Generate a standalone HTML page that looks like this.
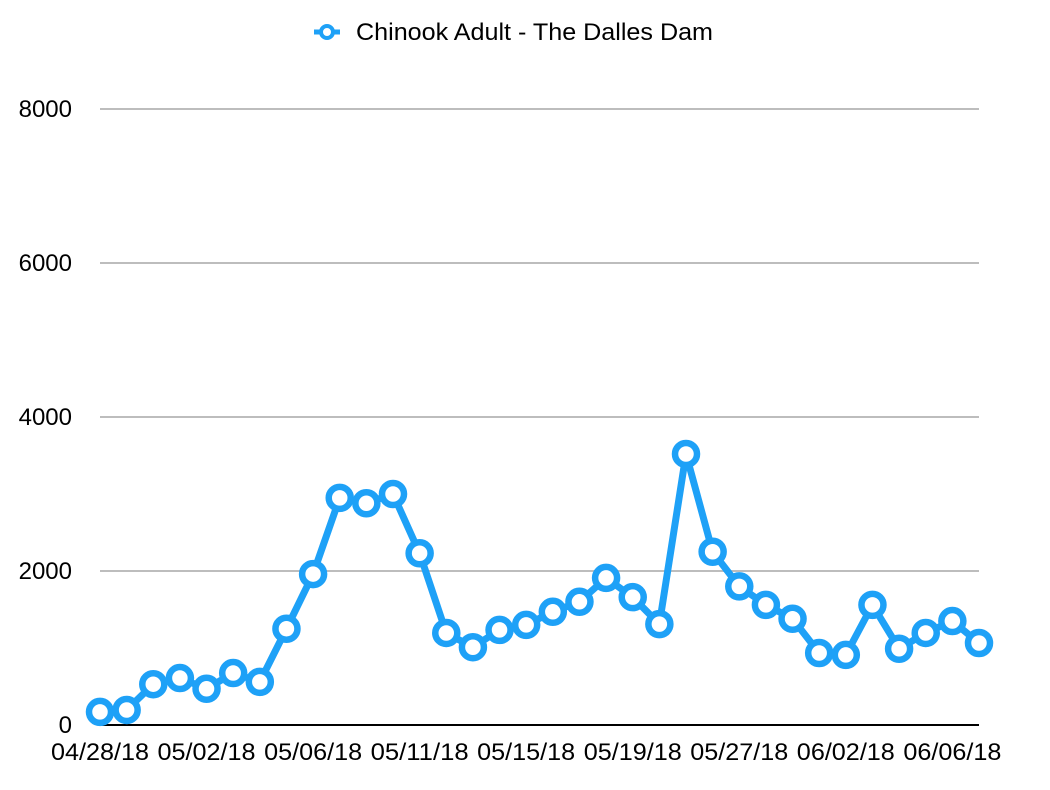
<!DOCTYPE html>
<html><head><meta charset="utf-8"><style>
html,body{margin:0;padding:0;background:#fff;}
svg{display:block;font-family:"Liberation Sans",sans-serif;}
</style></head><body>
<svg id="chart" width="1050" height="790" viewBox="0 0 1050 790">
<g id="legend">
  <line x1="314" y1="32" x2="340" y2="32" stroke="#1ea1f7" stroke-width="5"/>
  <circle cx="327" cy="32" r="6" fill="#fff" stroke="#1ea1f7" stroke-width="4"/>
  <text x="356" y="40" font-size="24" textLength="357" lengthAdjust="spacingAndGlyphs" fill="#000">Chinook Adult - The Dalles Dam</text>
</g>
<g id="grid"></g>
<g id="axes"></g>
<g id="series"></g>
</svg>
<script>
const categories = ["04/28/18","","","","05/02/18","","","","05/06/18","","","","05/11/18","","","","05/15/18","","","","05/19/18","","","","05/27/18","","","","06/02/18","","","","06/06/18",""];
const values = [170,195,530,610,470,675,560,1250,1960,2950,2880,3000,2230,1195,1010,1235,1300,1470,1600,1910,1660,1310,3520,2250,1800,1560,1380,935,910,1560,990,1195,1350,1065];
const yTicks = [0,2000,4000,6000,8000];

const NS = "http://www.w3.org/2000/svg";
const x0 = 100, x1 = 979, yBase = 725, yTop = 109, yMax = 8000;
function xScale(i){ return x0 + i*(x1-x0)/(categories.length-1); }
function yScale(v){ return yBase - v*(yBase-yTop)/yMax; }
function mk(tag, attrs, parent){ const e=document.createElementNS(NS,tag); for(const k in attrs) e.setAttribute(k,attrs[k]); parent.appendChild(e); return e; }

const grid = document.getElementById('grid');
const axes = document.getElementById('axes');
const series = document.getElementById('series');

yTicks.forEach(t=>{
  const y=yScale(t);
  if(t>0){
    const g=mk('line',{x1:x0,x2:x1,y1:y,y2:y,stroke:'#bdbdbd','stroke-width':2},grid);
    
    
  }
  const tx=mk('text',{x:72,y:y+8,'text-anchor':'end','font-size':24,fill:'#000'},axes);
  tx.textContent=t;
  
  
});
const ax=mk('line',{x1:x0,x2:x1,y1:yBase,y2:yBase,stroke:'#000','stroke-width':2},axes);


categories.forEach((c,i)=>{
  if(!c) return;
  const tx=mk('text',{x:xScale(i),y:760,'text-anchor':'middle','font-size':24,textLength:98,lengthAdjust:'spacingAndGlyphs',fill:'#000'},axes);
  tx.textContent=c;
  
  
});
const pts=values.map((v,i)=>xScale(i)+','+yScale(v)).join(' ');
const pl=mk('polyline',{points:pts,fill:'none',stroke:'#1ea1f7','stroke-width':7,'stroke-linejoin':'round'},series);


values.forEach((v,i)=>{
  const c=mk('circle',{cx:xScale(i),cy:yScale(v),r:11,fill:'#fff',stroke:'#1ea1f7','stroke-width':6.5},series);
  
  
});
</script>
</body></html>
